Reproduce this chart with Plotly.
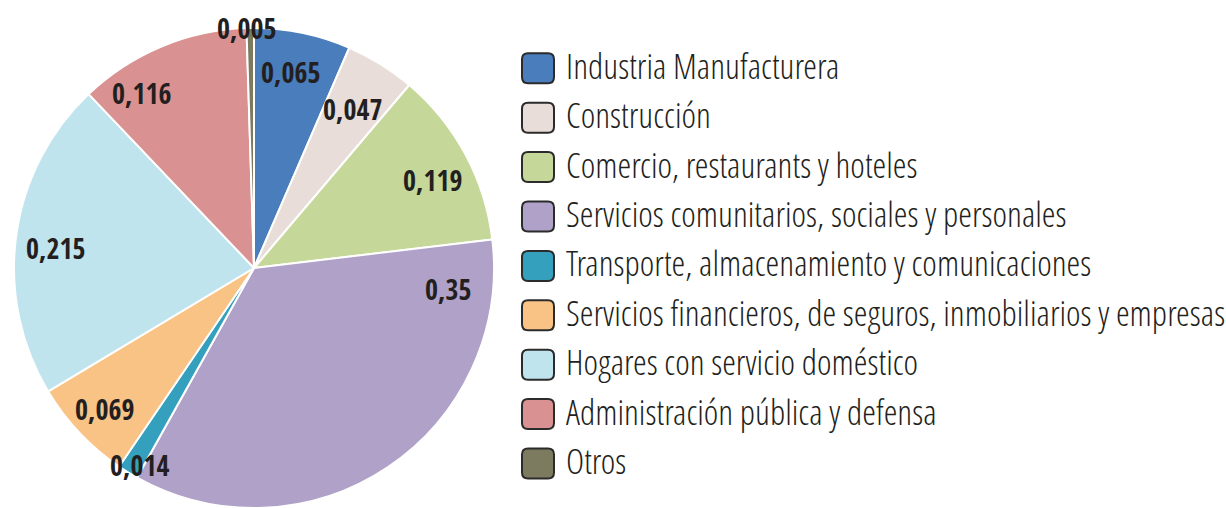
import math
import plotly.graph_objects as go

labels = [
    "Industria Manufacturera",
    "Construcción",
    "Comercio, restaurants y hoteles",
    "Servicios comunitarios, sociales y personales",
    "Transporte, almacenamiento y comunicaciones",
    "Servicios financieros, de seguros, inmobiliarios y empresas",
    "Hogares con servicio doméstico",
    "Administración pública y defensa",
    "Otros",
]
values = [0.065, 0.047, 0.119, 0.35, 0.014, 0.069, 0.215, 0.116, 0.005]
text_labels = ["0,065", "0,047", "0,119", "0,35", "0,014", "0,069", "0,215", "0,116", "0,005"]
colors = ["#4a7dbb", "#e8ddd8", "#c5d89a", "#b0a1c8", "#35a0be",
          "#f8c385", "#bfe4ee", "#d99291", "#7c7b5f"]

# label placement style (radius as fraction of pie radius, angular nudge in degrees)
label_rfrac = [0.83, 0.78, 0.83, 0.815, 0.95, 0.855, 0.83, 0.865, 1.0]
label_nudge = [-1, 0, 2, -50, -1.5, 0, -2, -10, -1]

LABEL_FONT = "Open Sans Condensed, Roboto Condensed, sans-serif"
LEGEND_FONT = "Open Sans Condensed Light, Roboto Condensed, sans-serif"

W, H = 1226, 508
CX, CY, R = 254, 268, 240  # pie centre / radius in pixels


def px(x):
    return x / W


def py(y):
    return 1 - y / H


fig = go.Figure()
fig.add_trace(go.Pie(
    labels=labels,
    values=values,
    textinfo="none",
    sort=False,
    direction="clockwise",
    rotation=0,
    marker=dict(colors=colors, line=dict(color="white", width=2)),
    showlegend=False,
    hoverinfo="label+value",
    domain=dict(x=[px(CX - R), px(CX + R)], y=[py(CY + R), py(CY - R)]),
))

annotations = []
# value labels, positioned from the cumulative shares
total = sum(values)
cum = 0.0
for v, t, rf, nd in zip(values, text_labels, label_rfrac, label_nudge):
    mid = (cum + v / 2) / total * 360.0 + nd
    cum += v
    a = math.radians(mid)
    x = CX + rf * R * math.sin(a)
    y = CY - rf * R * math.cos(a)
    annotations.append(dict(x=px(x), y=py(y), xref="paper", yref="paper", text=t,
                            showarrow=False, xanchor="center", yanchor="middle",
                            font=dict(family=LABEL_FONT, size=28, color="#231f20", weight=700)))

# custom legend (rounded swatches + labels)
box_x0, box_x1 = 522, 554
box_h = 30
row0, step = 68.3, 49.4
r = 6
shapes = []
for i, (lab, col) in enumerate(zip(labels, colors)):
    cy = row0 + i * step
    y0 = cy - box_h / 2
    y1 = cy + box_h / 2
    path = (
        f"M{px(box_x0 + r)},{py(y0)} L{px(box_x1 - r)},{py(y0)} "
        f"Q{px(box_x1)},{py(y0)} {px(box_x1)},{py(y0 + r)} "
        f"L{px(box_x1)},{py(y1 - r)} Q{px(box_x1)},{py(y1)} {px(box_x1 - r)},{py(y1)} "
        f"L{px(box_x0 + r)},{py(y1)} Q{px(box_x0)},{py(y1)} {px(box_x0)},{py(y1 - r)} "
        f"L{px(box_x0)},{py(y0 + r)} Q{px(box_x0)},{py(y0)} {px(box_x0 + r)},{py(y0)} Z"
    )
    shapes.append(dict(type="path", xref="paper", yref="paper", path=path,
                       fillcolor=col, line=dict(color="#2b2b2b", width=2)))
    annotations.append(dict(x=px(564), y=py(cy - 3), xref="paper", yref="paper",
                            text=lab, showarrow=False, xanchor="left", yanchor="middle",
                            font=dict(family=LEGEND_FONT, size=35, color="#231f20")))

fig.update_layout(
    width=W, height=H,
    margin=dict(l=0, r=0, t=0, b=0),
    paper_bgcolor="white",
    plot_bgcolor="white",
    shapes=shapes,
    annotations=annotations,
)
fig.write_html("out.html", config={"displayModeBar": False},
               post_script="document.body.style.margin='0';")
